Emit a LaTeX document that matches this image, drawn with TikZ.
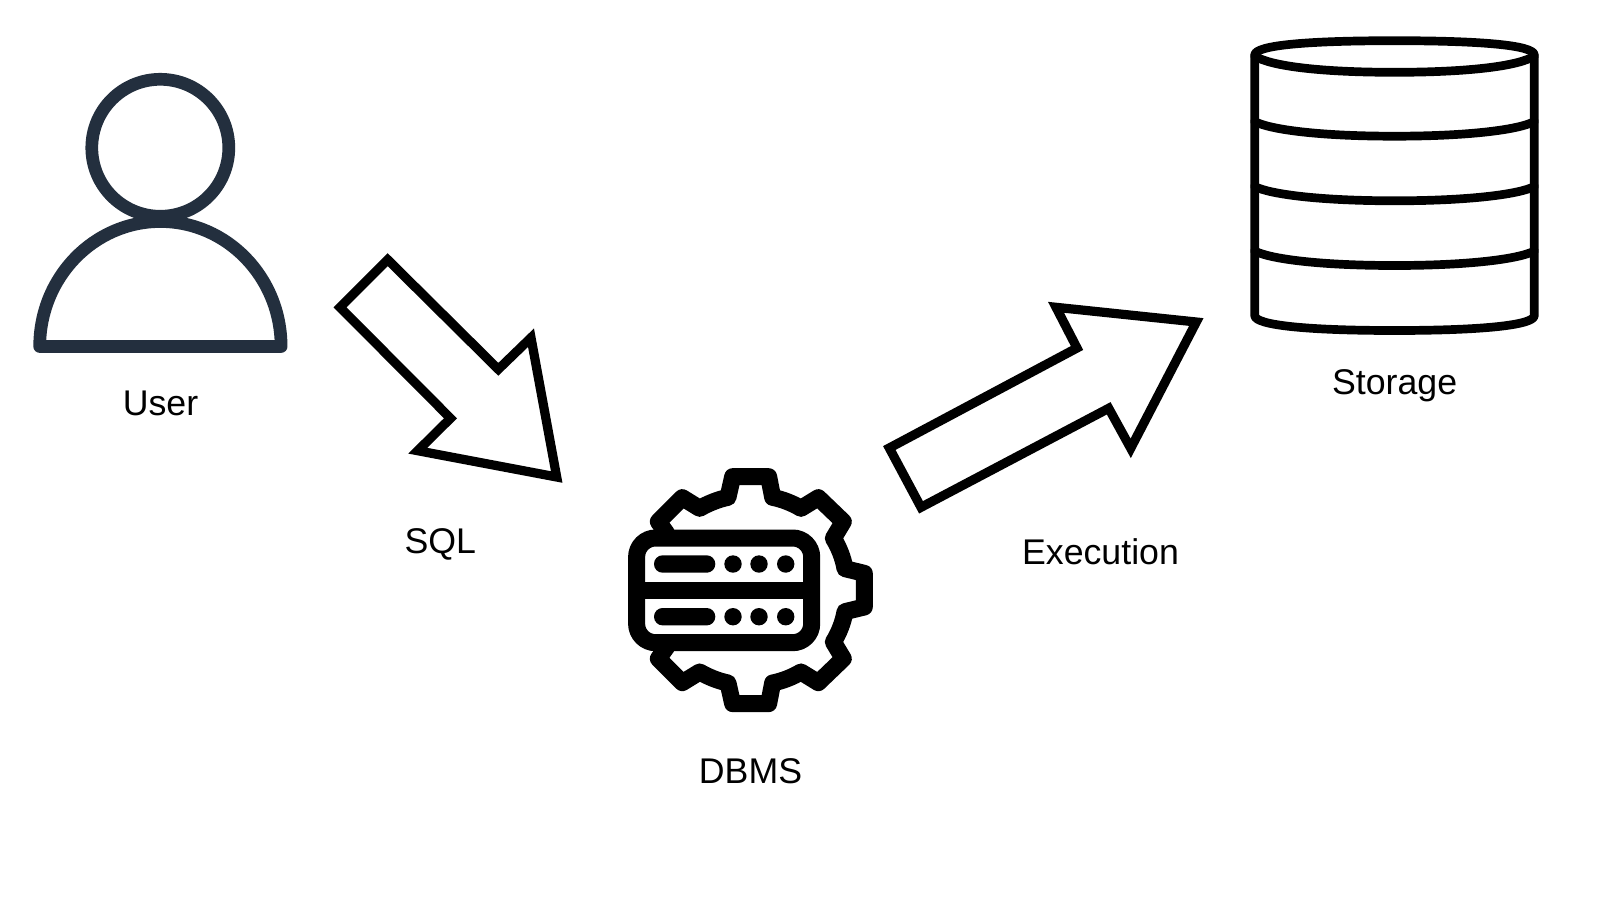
\documentclass[tikz,border=0pt]{standalone}
\usepackage{fontspec}
\setmainfont{Liberation Sans}
\definecolor{userc}{HTML}{232F3E}
\tikzset{
 lab/.style={font=\fontsize{35.7}{40}\selectfont,text=black,inner sep=0pt,anchor=base},
 block/.style={draw=black,line width=9.2pt,fill=white,miter limit=10},
 dbline/.style={draw=black,line width=8.7pt,line join=round,line cap=round},
 person/.style={draw=userc,line width=12.7pt,line join=round,line cap=round},
 gearline/.style={draw=black,line width=17pt,line join=round,line cap=round},
}
\begin{document}
\begin{tikzpicture}[x=1pt,y=-1pt]
\useasboundingbox (0,0) rectangle (1600,900);
\fill[white] (0,0) rectangle (1600,900);
% User
\draw[person] (160.3,147.8) circle[radius=68.5];
\draw[person] (39.7,346.5) arc[start angle=180,end angle=360,x radius=120.7,y radius=125] -- cycle;
\node[lab] (user) at (160.5,415.6) {User};
% SQL arrow
\draw[block] (387.7,259.7) -- (498.3,369.3) -- (531,337.7) -- (556.7,477) -- (417.7,450.7) -- (450.5,418.3) -- (340,307.3) -- cycle;
\node[lab] (sql) at (440.3,553.6) {SQL};
% Execution arrow
\draw[block] (889.3,448) -- (1077,348) -- (1056,307.3) -- (1196.3,322) -- (1130.7,448.3) -- (1108.7,408.3) -- (921,507.3) -- cycle;
\node[lab] (exec) at (1100.5,564.3) {Execution};
% Storage
\draw[dbline,fill=white] (1254.7,55) .. controls (1254.7,45) and (1310,40.7) .. (1394.5,40.7) .. controls (1479,40.7) and (1534.3,45) .. (1534.3,55) -- (1534.3,315.5) .. controls (1534.3,325.5) and (1479,330.5) .. (1394.5,330.5) .. controls (1310,330.5) and (1254.7,325.5) .. (1254.7,315.5) -- cycle;
\draw[dbline] (1254.7,56) .. controls (1270,66) and (1320,72.3) .. (1394.5,72.3) .. controls (1469,72.3) and (1519,66) .. (1534.3,56);
\foreach \ya/\yb in {121.5/136.2,186.5/200.8,251/265.5}{
 \draw[dbline] (1254.7,\ya) .. controls (1270,{\yb-6.5}) and (1320,\yb) .. (1394.5,\yb) .. controls (1469,\yb) and (1519,{\yb-6.5}) .. (1534.3,\ya);
}
\node[lab] (storage) at (1394.6,394) {Storage};
% DBMS gear
\begin{scope}[shift={(600,450)},x=0.3333pt,y=-0.3333pt]
\draw[gearline] (200,250) -- (175,215) -- (247,143) -- (299,175)
 .. controls (325,160) and (355,148) .. (384,142) -- (398,80) -- (506,80) -- (518,142)
 .. controls (548,148) and (578,160) .. (603,175) -- (655,143) -- (730,215) -- (700,265)
 .. controls (716,290) and (730,325) .. (735,356) -- (793,370) -- (793,471) -- (735,485)
 .. controls (730,516) and (716,551) .. (700,576) -- (730,626) -- (655,698) -- (603,666)
 .. controls (578,681) and (548,693) .. (518,699) -- (506,761) -- (398,761) -- (384,699)
 .. controls (355,693) and (325,681) .. (299,666) -- (247,698) -- (175,626) -- (200,591);
\end{scope}
\draw[draw=black,line width=17pt,fill=white,rounded corners=19pt] (636.6,538) rectangle (811.7,642.7);
\draw[black,line width=17.3pt] (636.6,590.3) -- (811.7,590.3);
\foreach \y in {564,616.7}{
 \fill[black,rounded corners=8.6pt] (654,\y-8.7) rectangle (715.3,\y+8.7);
 \foreach \x in {733,759,785.7}{\fill[black] (\x,\y) circle[radius=8.7];}
}
\node[lab] (dbms) at (750.5,783.6) {DBMS};
\end{tikzpicture}
\end{document}
